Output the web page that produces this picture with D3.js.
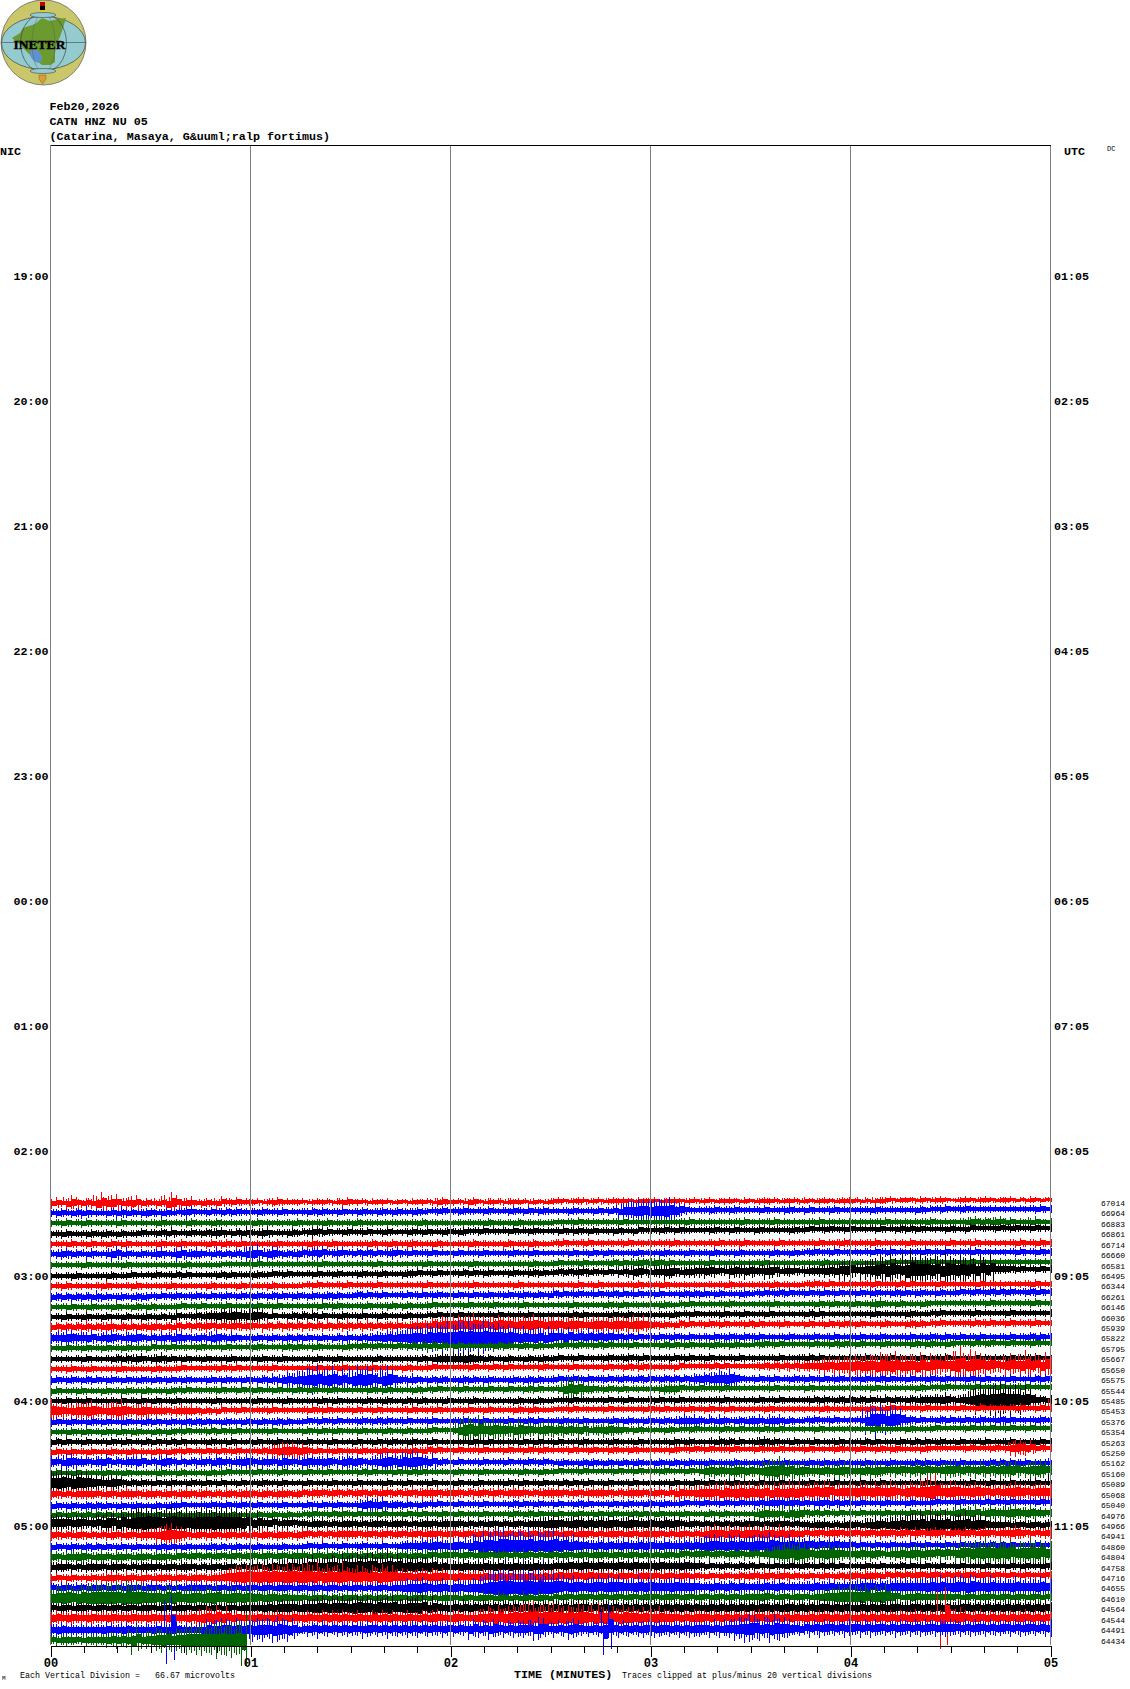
<!DOCTYPE html>
<html><head><meta charset="utf-8"><title>CATN HNZ NU 05</title>
<script src="https://cdn.jsdelivr.net/npm/d3@7/dist/d3.min.js"></script>
<style>html,body{margin:0;padding:0;background:#fff}svg{display:block}text{font-family:"Liberation Mono",monospace;fill:#000;white-space:pre}</style>
</head><body><svg id="c" width="1130" height="1689"></svg>
<script>
const titleLines = ["Feb20,2026","CATN HNZ NU 05","(Catarina, Masaya, G&uuml;ralp fortimus)"];
const nicHours = ["19:00","20:00","21:00","22:00","23:00","00:00","01:00","02:00","03:00","04:00","05:00"];
const utcHours = ["01:05","02:05","03:05","04:05","05:05","06:05","07:05","08:05","09:05","10:05","11:05"];
const minuteLabels = ["00","01","02","03","04","05"];
const traceCounts = [67014,66964,66883,66861,66714,66660,66581,66495,66344,66261,66146,66036,65939,65822,65795,65667,65650,65575,65544,65485,65453,65376,65354,65263,65250,65162,65160,65089,65068,65040,64976,64966,64941,64860,64804,64758,64716,64655,64610,64564,64544,64491,64434];
const traceColors = ["#ff0000","#0000ff","#006400","#000000"];
const baseStart = [1203,1213,1223,1234,1244,1254,1265,1276,1286,1297,1307,1317,1327,1338,1348,1359,1369,1380,1391,1401,1411,1422,1432,1442,1452,1462,1473,1483,1494,1506,1515,1523,1535,1547,1557,1567,1578,1588,1598,1608,1618,1630,1640];
const baseEnd = [1200,1209,1222,1228,1243,1252,1262,1269,1284,1292,1303,1313,1323,1337,1343,1358,1365,1379,1387,1400,1408,1420,1428,1442,1448,1463,1470,1483,1492,1502,1513,1525,1533,1545,1553,1566,1575,1587,1597,1608,1618,1628,1640];
// half-amplitude of each trace, read per 1.5 s column (base-36 digit, picture pixels)
const traceAmps = [
"4634763546 9578456735 4364974563 3543643534 3423453433 4234342435 3342433423 3243342453 3423532434 2434324323 3432344234 2343432433 4233432342 3423343243 2343423342 4323432334 3242343423 3324323432 2343234323 3423243232",
"3454354634 4353645345 5345434563 3453453544 4354345343 4453543453 3454345435 4345434354 3454343543 4354353454 4343543435 3453788a98 9a9b876434 3454345434 4353434543 3534345343 3443543434 3435343453 3454343443 3434343534",
"3435343534 3434534343 4354343454 3435434343 3534343435 3434353434 3534343343 4343534343 3434343534 3435343434 3434353443 4343534343 4343434534 3434343453 3434534343 3435343434 3434345343 4343454343 3435645456 4534346334",
"3445343454 3543534354 4354634354 3545634536 4356343454 4356453435 4345343543 3454353435 4354345343 4353435434 3453454353 4345343534 4354353443 3454345343 3543434354 3534354345 3434353435 4535343435 3435343435 3454345344",
"3434534353 4353453434 3453435343 4353454353 3434353434 3454345343 3434534353 3454343534 3434534343 3534345343 3453434534 3434353434 3434534343 3435343453 3434353434 3435343454 3434534343 3534343435 3434534343 3435343534",
"4356454364 3457464354 4564357456 5436453546 7845764545 6456734563 4536453456 3453445343 3534345343 4354345343 3434534353 3534343534 3454343534 4353434534 3434534353 3454345343 4343534534 3434534353 3434534343 3435343534",
"3434343534 3434353434 3343434534 3434343433 3534343434 3434533434 3434353434 3343453434 3433534343 3434345343 3534345343 3454534654 5645343434 3534343434 3453434343 3434534343 3434343534 3434354343 3436343434 3343434343",
"3434353434 3453435343 3543453534 3434535344 3543534534 3435343543 3454345343 3545343534 3453534543 3454345453 3545456454 4534646753 6567745666 6756457668 5658746564 4655676789 5688ac8ea7 9hbdbac8eb 9cab7c8d65 5545443534",
"3435343434 3534343534 3434534343 3453434353 3434534343 3435343435 3434353434 3434353434 3434534343 3435343434 3434353435 3434343534 3453434343 3434353434 3434534343 3454353434 3434534345 3534343534 3434353434 3343435343",
"4545354536 4534543545 4353454345 4353454354 3543545345 4354354534 3545345343 4534534543 4534534534 4534543534 5453454345 3454534534 4534345454 5345343454 3453454534 4534534534 4534543454 5345434534 4534543545 3543454534",
"3434534354 3435343534 5343435343 5343453434 3534353434 3434534534 3435343453 3534345343 3435343454 3434534343 3434534343 3543534343 3454343534 3434354343 3434534343 3435345343 5343564345 3434534343 3434343534 4343435343",
"3435343534 3534353435 4353464345 4565758765 7864534354 5464534354 4353435343 3534343534 3534343435 3434353434 3434535343 3454353434 3434534353 3434534353 3435343434 3536343434 3434534343 4543434534 3434534343 3534343434",
"4535454645 4563546354 5645364536 4563545645 5436453645 4635463546 4536453546 4356547687 8978a78679 7867879768 7867876587 7687868786 5454354534 3534534345 3534345343 3534353454 3534345343 3545343534 3434534534 3534345343",
"5658756674 5675465754 5465476545 5467546534 4534543545 4534534536 4354565768 789a8b9cad bedfcbedbc ab98a7896a 7869576867 6756454534 4534543534 4353454354 4534343543 4354345343 4534354343 4534354353 4534353434 3534354534",
"3435343534 3534353434 5343534343 5434353434 3543434535 4345343435 3454354345 3453536454 4534343435 3534534534 3453454345 3534345343 3453534534 3454345343 3454353434 3453445354 3534345343 3453454345 3434534543 3534345343",
"3434343534 3435464563 4564534534 3534345343 3453435343 3435343534 3434353434 3434534565 6567564534 3534353454 3534353434 3543454353 3434534534 3534343534 3434353434 4535343434 3453434534 3435343453 3434534343 3534345343",
"3434534353 3434534343 3534345343 3434534534 3434534343 3435343454 3434534343 3534345343 3434534353 3534343454 3434534343 3534353454 3434353434 3453534343 3454546464 6565786887 a89a8ba9c8 9a8b7a9887 cf8dca7986 7a87c896b8",
"4534543545 3454353454 4534534543 3453454345 3454645768 8a9c79b7a6 8c9ba68c95 5465345354 4354534543 4354354534 4534543534 4534543545 3454545365 7678797543 4534534354 4534534543 3454354534 4534354354 3435345343 3534345353",
"3534345343 3534354345 3434534534 3434534353 3534353435 3453435343 3434534534 3435343534 3453434534 3534354534 345a8a5654 4543534343 3456564345 3434534343 3434534343 3534343434 3434534343 3435343454 3434534345 3434534343",
"3435343534 3443534353 3534353434 3435343434 3534343534 3434534534 3435343543 3534534345 3434534343 3435343534 3434534343 3534353434 3534353434 3434534343 3534353434 3453543545 3545346354 4546556576 4567ac9bde cbdac96545",
"a786687897 5688a75678 6565456565 3534534353 3434534343 3453453434 3534353434 3453434534 3435343534 3435345343 3434534343 3534343435 3453434534 3534353434 3435343434 3434534343 3435343534 3434534343 3534353434 3435343534",
"4534543454 4534354345 4534543545 4534354345 3453454534 3534534534 3454354543 4534345343 3454345343 4534354534 3454345343 3453454345 3454356565 4636534545 5636564534 3454345343 345cbd8cba 6545343545 3453454345 4534343543",
"3434534534 3534534543 3534534534 3453534534 3434534343 3534534534 3453434534 3534345343 45ac8c87a8 7869785678 6767567465 6756534534 3435343454 3434534534 3453453434 3435343434 3434534343 3534345343 3435343534 3534353434",
"3535343534 3453453435 3534535343 4354345343 3534353434 3534345343 3534353454 3454345343 3434534534 3434534534 3534345434 3454343534 3443534543 3436454534 3564543453 3453434534 3453534345 3453534543 3534345343 4534343534",
"3534534353 3454345343 4534534534 3534534543 3454568786 7545343534 3454345343 3453454534 3534345343 3534353454 3434534353 3454345343 3434534353 3534345343 3534353434 3534343534 3534353454 3434534343 3435343454 3578674534",
"6547856546 5746465674 5467546354 6547564657 6456547564 5765675467 6754658976 98a9768454 3534345343 4534354354 3454345354 3534534543 3534534534 4534345343 4354345343 4534534534 3453434543 3453534534 4534343545 3534534343",
"3534353434 3534353434 3454345343 4353453434 3534345343 3534353434 3453534345 3453534343 3534345343 3434534353 3534345343 3435343534 3454343534 5767567867 568a9c8a67 7656756786 5675876567 5676856578 7675685767 8795678975",
"a9ba8b9a78 6587645454 4534543454 3534534353 3454345343 3534345343 4534343534 3534345343 3534353434 4534534353 3453534534 3534345343 3434534353 3534345343 3534353434 3534345343 3534353434 3434534343 3435343534 3534345343",
"5645456565 4564565645 6545645654 5645465456 5456456545 5456545645 4564545645 4564565645 5645465456 4565645456 5654564565 5645465654 5645476567 7876a78989 7896988a7a 7897a96878 7987978a86 897a9cf87a 9787978676 7897867887",
"4534543545 4534534543 3534545343 4354353454 3534345343 3534534534 3457667455 4534534534 3534345343 4354534543 4534354534 3453454345 3454345343 5343534534 4645654654 5345636354 3534345343 3534345343 3534345353 4534343534",
"4534543545 3534534534 4534354345 3454345343 3534534534 3454345354 3534345343 3534534353 3534345343 3454354534 4534354345 3454345353 3534345343 3534534343 3576564857 6454534534 3534345343 3534534543 6756845765 6875675654",
"7878677668 6a96b8acde bdacecbdab dcbecdcbac 5a65746564 5465645465 5464565465 5464565465 6546454564 5465456567 8756786857 6875678657 5675864654 5464546456 5464565454 5465645465 5466876789 89ac8b9ac8 9ab89a8565 5465456454",
"5645456454 5465465465 6589a87645 5465456454 5465456545 6545464565 6545645645 5456456546 5465456454 6545465456 5465456545 4565456465 6545465454 6787687678 7687586756 5465456545 5465456546 5465456545 5465456545 6576645456",
"4534543545 3534534534 3453534543 4354534534 3534345343 3534534353 3454345343 5665767866 7856a8cb9e fbcdbeacad e9b8a87667 6756765767 6576567676 89a87a8a78 9a8b987a78 7867567656 4534534543 4534534353 4534543545 3534345343",
"5645657645 6546564565 4565465456 4546545645 5465465456 5465465456 5456456546 5465456456 5465456546 5454654645 5465456456 5456456454 5465456456 5465456546 5465789a8b 9768797865 6756754567 6786867586 69a8b9c9ab 9b8a9c9b8a",
"4565464565 5465645465 6546546564 5465456454 6546756786 89a789a8b9 ac9bc8ad9b 7a8987a676 6576567657 6576567656 6567567657 6567567656 6756567656 4534543545 4534534543 5435354534 3453453435 4534534543 3534345343 4534543454",
"4534543454 4565465465 4565465456 5465678a9b 9ac9ba9cb9 bcad8b9ac9 8a97a8b9a7 8767868786 6756567657 6765676576 6756756765 5645654565 5465456454 4534543545 5465456454 4534543545 5465645454 5465456454 5465456454 4534543454",
"5465465456 5456456545 6545464565 6545645645 5456456546 5465456454 6545465456 6878976786 7867879cde fedcfedfcb cba8a9789a 8a9a878a79 7878987876 5675675765 5675675656 5675676565 6787686787 8787898a87 9a8b978a88 8798787987",
"8a9ca8bacd bdcdaebdca 9a8b9c78a9 8a9b78a97a 7867867656 5465645456 5465456456 5465645456 5465456546 5454654654 5465456546 5465465456 5456546546 5465456465 5675465456 5465788a9a a9b8a9b874 5675656565 5465456546 5465456454",
"5465456545 5465456456 5465456545 5465456465 5567678786 7889a8a9a8 9b9a8b9ab7 8a9ab6a756 7686767676 7686767676 7686787676 7686767686 7676867676 6768676867 6786767867 6767867676 6768676786 6786767686 6786767686 7686767676",
"6756765676 5676567656 7656765676 7a8b7a6765 6765676576 6756767676 6756767676 6756767865 7865678a8b 8ab9cde9bd cbab9cba8d 9ca8b9a897 8a87867687 7676767676 7867767676 6767767676 6767676767 67876767r8 8976786767 6767867676",
"5675656565 5765675656 5765x75665 5978a97a8a 8a9a7ba8a6 6576857576 7668757686 7686857668 6756968697 6868786a96 6857986576 7k86867678 6876768687 7686878a9c b8a8c9a876 7686876768 7686876768 7686876878 7686876867 7686876768",
"5465654565 6575867c68 8a9b8a9bcb cdbcfcdeck"
];
const logoLand = [[12,38],[20,33],[23,28],[35,24],[42,18],[50,21],[58,19],[66,18],[63,28],[60,37],[57,43],[55,53],[55,62],[50,65],[42,65],[33,58],[25,50],[18,43]];

const svg = d3.select("#c");
const x = d3.scaleLinear().domain([0,5]).range([50.5,1050.5]);
const hourY = d3.scaleLinear().domain([0,1]).range([277,402]);
const countY = d3.scaleLinear().domain([0,42]).range([1203,1640.5]);
const amp = d3.scaleLinear().domain([0,5,20,35]).range([0,5,26,36]);
const minutesPerColumn = 5/199;

// logo
const logo = svg.append("g").attr("id","logo");
logo.append("circle").attr("cx",43.5).attr("cy",42.5).attr("r",42.5).attr("fill","#c9c76a").attr("stroke","#555").attr("stroke-width",.7);
logo.append("ellipse").attr("cx",43.5).attr("cy",43).attr("rx",42).attr("ry",26.5).attr("fill","#93cbce").attr("stroke","#444").attr("stroke-width",.7);
logo.append("polygon").attr("points",logoLand.map(p=>p.join(",")).join(" ")).attr("fill","#6b9a2f");
logo.append("ellipse").attr("cx",36).attr("cy",56).attr("rx",5).attr("ry",7.5).attr("transform","rotate(-35 36 56)").attr("fill","#5f93cf");
logo.append("ellipse").attr("cx",43.5).attr("cy",43).attr("rx",23).attr("ry",29.5).attr("fill","none").attr("stroke","#445").attr("stroke-width",.7);
logo.append("ellipse").attr("cx",43.5).attr("cy",43).attr("rx",11.5).attr("ry",29.5).attr("fill","none").attr("stroke","#556").attr("stroke-width",.4);
logo.append("ellipse").attr("cx",43).attr("cy",15).attr("rx",13).attr("ry",2.5).attr("fill","#93cbce").attr("stroke","#445").attr("stroke-width",.6);
logo.append("ellipse").attr("cx",43).attr("cy",71).attr("rx",13).attr("ry",2.5).attr("fill","#93cbce").attr("stroke","#445").attr("stroke-width",.6);
logo.append("line").attr("x1",1).attr("x2",86).attr("y1",42.5).attr("y2",42.5).attr("stroke","#445").attr("stroke-width",.6);
logo.append("rect").attr("x",40).attr("y",2).attr("width",5).attr("height",4).attr("fill","#c00000");
logo.append("rect").attr("x",40).attr("y",6).attr("width",5).attr("height",4).attr("fill","#000");
logo.append("rect").attr("x",40).attr("y",10).attr("width",5).attr("height",2).attr("fill","#e8c820");
logo.append("polygon").attr("points","39,75 46,75 46,79 42.5,84 39,79").attr("fill","#e09a30").attr("stroke","#665").attr("stroke-width",.5);
logo.append("text").attr("x",39.5).attr("y",48.5).attr("text-anchor","middle").style("font-family","'Liberation Serif',serif").style("font-weight","bold").style("font-size","13.5px").attr("stroke","#000").attr("stroke-width",.4).text("INETER");

// traces: a stepped solid core with thin spikes at the read amplitudes
const coreArea = d3.area().curve(d3.curveStepAfter).x(d=>x(d.t)).y0(d=>d.base-d.up).y1(d=>d.base+d.down);
const coreOf = v => v <= 6 ? Math.round(v*0.55) : Math.round(3.3+(v-6)*0.45);
const traces = svg.append("g").attr("id","traces").attr("shape-rendering","crispEdges");
traceAmps.forEach((s,i)=>{
  const vals = s.replace(/ /g,"").split("").map(c=>parseInt(c,36));
  const base = d3.scaleLinear().domain([0,5]).range([baseStart[i],baseEnd[i]]);
  const color = traceColors[i%4];
  const g = traces.append("g");
  const cols = vals.map((v,k)=>{
    const t = k*minutesPerColumn, n = vals[k+1]??v;
    return {t, v, n, base:base(t), up:coreOf(v), down:coreOf(n)};
  });
  g.append("path").attr("d",coreArea(cols)).attr("fill",color);
  const p = d3.path();
  cols.forEach((d,k)=>{
    const X = Math.round(x(d.t));
    p.moveTo(X,d.base-amp(d.v)); p.lineTo(X,d.base+amp(d.n));
    if (k < cols.length-1) {
      const m = cols[(k+2)%cols.length].v, X2 = Math.round(x(d.t+minutesPerColumn/2));
      p.moveTo(X2,d.base-amp(m*0.8)); p.lineTo(X2,d.base+amp(d.v*0.8));
    }
  });
  g.append("path").attr("d",p.toString()).attr("fill","none").attr("stroke",color).attr("stroke-width",1);
});

// frame and grid
const grid = svg.append("g").attr("stroke","#808080").attr("shape-rendering","crispEdges");
d3.range(0,6).forEach(m=>grid.append("line").attr("x1",x(m)).attr("x2",x(m)).attr("y1",145).attr("y2",1645));
svg.append("line").attr("x1",x(0)).attr("x2",x(5)).attr("y1",145.5).attr("y2",145.5).attr("stroke","#000").attr("shape-rendering","crispEdges");

// x axis
const axisG = svg.append("g").attr("transform","translate(0,1645.5)").attr("shape-rendering","crispEdges")
  .call(d3.axisBottom(x).tickValues(d3.range(0,31).map(k=>k/6)).tickSizeOuter(0).tickFormat(d=>{const k=Math.round(d*6);return k%6===0?minuteLabels[k/6]:"";}));
axisG.select(".domain").attr("stroke","#000");
axisG.selectAll(".tick").each(function(d){
  const major = Math.round(d*6)%6===0;
  d3.select(this).select("line").attr("y2",major?11:7).attr("stroke","#000");
  d3.select(this).select("text").attr("y",13).attr("dy","0.71em").style("font-family","'Liberation Mono',monospace").style("font-size","12px").style("font-weight","bold").attr("fill","#000");
});

// text
const bold = sel=>sel.style("font-size","11.7px").style("font-weight","bold");
titleLines.forEach((t,i)=>svg.append("text").attr("x",49.5).attr("y",110+i*15).call(bold).text(t));
svg.append("text").attr("x",0).attr("y",155).call(bold).text("NIC");
svg.append("text").attr("x",1064).attr("y",155).call(bold).text("UTC");
svg.append("text").attr("x",1107).attr("y",151).style("font-size","7px").text("DC");
nicHours.forEach((t,i)=>svg.append("text").attr("x",48.5).attr("y",hourY(i)+3).attr("text-anchor","end").call(bold).text(t));
utcHours.forEach((t,i)=>svg.append("text").attr("x",1054).attr("y",hourY(i)+3).call(bold).text(t));
traceCounts.forEach((c,i)=>svg.append("text").attr("x",1101).attr("y",countY(i)+3).style("font-size","8px").text(c));
svg.append("text").attr("x",514).attr("y",1678).call(bold).text("TIME (MINUTES)");
svg.append("text").attr("x",622).attr("y",1678).style("font-size","8.33px").text("Traces clipped at plus/minus 20 vertical divisions");
svg.append("text").attr("x",20).attr("y",1678).style("font-size","8.33px").text("Each Vertical Division =   66.67 microvolts");
svg.append("text").attr("x",2).attr("y",1680).style("font-size","6px").text("M");
</script></body></html>
